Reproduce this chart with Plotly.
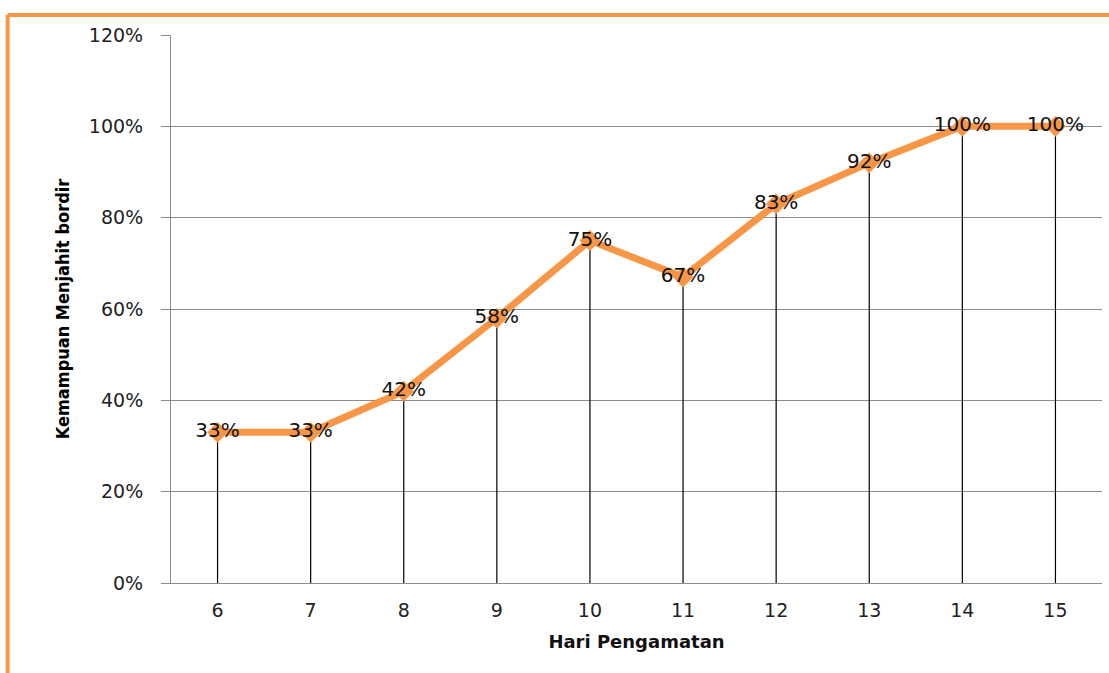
import plotly.graph_objects as go

# Observation days and sewing-skill percentages
hari = [6, 7, 8, 9, 10, 11, 12, 13, 14, 15]
kemampuan = [33, 33, 42, 58, 75, 67, 83, 92, 100, 100]
label = [f"{v}%" for v in kemampuan]
y_ticks = [0, 20, 40, 60, 80, 100, 120]

ORANGE = "#F79646"
GRID = "#8C8C8C"
FONT = "DejaVu Sans"

fig = go.Figure()

# Vertical drop lines from each point down to the axis
fig.add_trace(go.Scatter(
    x=hari, y=kemampuan, mode="markers",
    marker=dict(size=1, color="rgba(0,0,0,0)"),
    error_y=dict(type="data", symmetric=False, array=[0] * len(hari),
                 arrayminus=kemampuan, color="black", thickness=1.2, width=0),
    hoverinfo="skip", showlegend=False,
))

# Main series with centred value labels
fig.add_trace(go.Scatter(
    x=hari, y=kemampuan, mode="lines+markers+text",
    line=dict(color=ORANGE, width=7),
    marker=dict(symbol="diamond", size=16, color=ORANGE),
    text=label, textposition="middle center",
    textfont=dict(family=FONT, size=20, color="#111111"),
    showlegend=False,
))

fig.update_layout(
    width=1109, height=673,
    margin=dict(l=171, r=7, t=35, b=90),
    plot_bgcolor="white", paper_bgcolor="white",
    font=dict(family=FONT, color="#222222"),
    xaxis=dict(
        range=[5.5, 15.5], tickvals=hari, ticktext=[str(h) for h in hari],
        showgrid=False, showline=True, linecolor=GRID, linewidth=1,
        ticks="", tickfont=dict(size=19, color="#222222"), zeroline=False,
        ticklabelstandoff=10,
        title=dict(text="<b>Hari Pengamatan</b>", font=dict(family=FONT, size=18, color="#111111"),
                   standoff=15),
    ),
    yaxis=dict(
        range=[0, 120], tickvals=y_ticks, ticktext=[f"{t}%" for t in y_ticks],
        showgrid=True, gridcolor=GRID, gridwidth=1,
        showline=True, linecolor=GRID, linewidth=1,
        ticks="outside", ticklen=9, tickcolor=GRID,
        tickfont=dict(size=19, color="#222222"), zeroline=False,
        ticklabelstandoff=14,
        title=dict(text="<b>Kemampuan Menjahit bordir</b>",
                   font=dict(family="DejaVu Sans Condensed, " + FONT, size=18, color="#000000"),
                   standoff=14),
    ),
    shapes=[
        dict(type="line", xref="paper", yref="paper",
             x0=-0.1755, x1=1.01, y0=1.0365, y1=1.0365,
             line=dict(color=ORANGE, width=4)),
        dict(type="line", xref="paper", yref="paper",
             x0=-0.1755, x1=-0.1755, y0=1.0365, y1=-0.2,
             line=dict(color=ORANGE, width=4)),
    ],
)

fig.write_html("out.html")
